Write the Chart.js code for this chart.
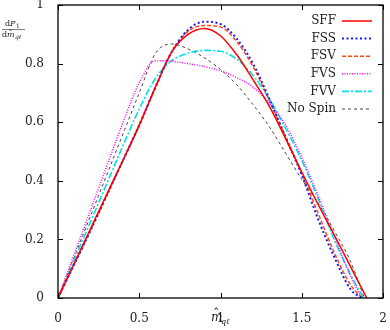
<!DOCTYPE html>
<html><head><meta charset="utf-8">
<script src="https://cdn.jsdelivr.net/npm/chart.js@4"></script>
<style>html,body{margin:0;padding:0;background:#fff}#wrap{width:390px;height:330px}</style>
</head><body><div id="wrap"><canvas id="c" width="390" height="330"></canvas></div>
<script>
const xs = [0,0.1,0.2,0.3,0.4,0.5,0.6,0.7,0.8,0.9,1.0,1.1,1.2,1.3,1.4,1.5,1.6,1.7,1.8];
const labels = ['SFF','FSS','FSV','FVS','FVV','No Spin'];
const endX = [1.9,1.87,1.87,1.87,1.88,1.885];
const sff    = [0,0.118,0.236,0.354,0.47,0.59,0.72,0.84,0.9,0.92,0.895,0.83,0.745,0.655,0.545,0.43,0.32,0.215,0.107];
const fss    = [0,0.115,0.23,0.35,0.47,0.59,0.72,0.84,0.915,0.943,0.935,0.885,0.8,0.68,0.55,0.42,0.27,0.14,0.03];
const fsv    = [0,0.116,0.232,0.35,0.47,0.59,0.72,0.84,0.91,0.93,0.925,0.875,0.79,0.675,0.55,0.425,0.29,0.155,0.045];
const fvs    = [0,0.15,0.3,0.45,0.6,0.735,0.81,0.808,0.8,0.79,0.775,0.752,0.72,0.665,0.59,0.48,0.35,0.21,0.075];
const fvv    = [0,0.13,0.26,0.39,0.52,0.645,0.75,0.81,0.835,0.845,0.842,0.815,0.76,0.68,0.58,0.47,0.34,0.2,0.08];
const nospin = [0,0.14,0.28,0.42,0.56,0.7,0.835,0.867,0.85,0.82,0.78,0.728,0.66,0.585,0.495,0.405,0.325,0.23,0.125];
const xTicks = [0,0.5,1,1.5,2];
const yTicks = [0,0.2,0.4,0.6,0.8,1];

const series = [sff,fss,fsv,fvs,fvv,nospin];
const styles = [
  {c:'#ff0000', w:1.5, d:[]},
  {c:'#1a1aff', w:2, d:[2,2.5]},
  {c:'#ff4a10', w:1.5, d:[4,2]},
  {c:'#ff00ff', w:1.5, d:[1,1.5]},
  {c:'#00e0e8', w:1.6, d:[7,2,2,2]},
  {c:'#444444', w:1, d:[3,3]}
];
const datasets = series.map((vals,i)=>({
  label: labels[i],
  data: xs.map((x,j)=>({x:x,y:vals[j]})).concat([{x:endX[i],y:0}]),
  borderColor: styles[i].c, borderWidth: styles[i].w, borderDash: styles[i].d,
  pointRadius:0, fill:false, cubicInterpolationMode:'monotone'
}));

const SERIF = '"DejaVu Serif", "Liberation Serif", serif';
const deco = {
  id:'deco',
  afterDraw(chart){
    const ctx = chart.ctx, a = chart.chartArea, xs_ = chart.scales.x, ys_ = chart.scales.y;
    ctx.save();
    ctx.strokeStyle = '#000'; ctx.lineWidth = 1.3;
    ctx.strokeRect(a.left, a.top, a.right-a.left, a.bottom-a.top);
    ctx.lineWidth = 1;
    xTicks.forEach(v=>{const p = Math.round(xs_.getPixelForValue(v))+0.5;
      ctx.beginPath(); ctx.moveTo(p,a.bottom); ctx.lineTo(p,a.bottom-5); ctx.moveTo(p,a.top); ctx.lineTo(p,a.top+5); ctx.stroke();});
    yTicks.forEach(v=>{const p = Math.round(ys_.getPixelForValue(v))+0.5;
      ctx.beginPath(); ctx.moveTo(a.left,p); ctx.lineTo(a.left+5,p); ctx.moveTo(a.right,p); ctx.lineTo(a.right-5,p); ctx.stroke();});
    // legend
    ctx.font = '12px ' + SERIF; ctx.fillStyle = '#222'; ctx.textAlign='right'; ctx.textBaseline='middle';
    chart.data.datasets.forEach((ds,i)=>{
      const y = 21 + i*17.6;
      ctx.fillText(ds.label, 336, y);
      ctx.strokeStyle = ds.borderColor; ctx.lineWidth = ds.borderWidth; ctx.setLineDash(ds.borderDash);
      ctx.beginPath(); ctx.moveTo(342, y); ctx.lineTo(372, y); ctx.stroke();
    });
    ctx.setLineDash([]);
    // y title fraction
    ctx.fillStyle = '#222'; ctx.textAlign='left'; ctx.textBaseline='alphabetic';
    ctx.font = '8px ' + SERIF;
    ctx.fillText('d', 5, 26);
    ctx.font = 'italic 8px ' + SERIF; ctx.fillText('P', 10, 26);
    ctx.font = '6px ' + SERIF; ctx.fillText('1', 16, 28);
    ctx.strokeStyle='#222'; ctx.lineWidth=0.6; ctx.beginPath(); ctx.moveTo(2,29.5); ctx.lineTo(25,29.5); ctx.stroke();
    ctx.font = '8px ' + SERIF; ctx.fillText('d', 2, 37);
    ctx.font = 'italic 8px ' + SERIF; ctx.fillText('m', 7, 37);
    ctx.font = '8px ' + SERIF; ctx.fillText('\u02C6', 8.5, 36);
    ctx.font = 'italic 6px ' + SERIF; ctx.fillText('q\u2113', 15, 39);
    // x title
    ctx.font = 'italic 12px ' + SERIF; ctx.textAlign='left';
    ctx.fillText('m', 211, 321);
    ctx.font = '13px ' + SERIF; ctx.fillText('\u02C6', 213, 318);
    ctx.font = 'italic 8px ' + SERIF; ctx.fillText('q\u2113', 221, 324);
    ctx.restore();
  }
};

new Chart(document.getElementById('c'), {
  type:'line',
  data:{datasets},
  options:{
    responsive:false, animation:false,
    layout:{padding:{left:0,right:7,top:5,bottom:0}},
    plugins:{legend:{display:false}, tooltip:{enabled:false}},
    scales:{
      x:{type:'linear', min:0, max:2,
        afterBuildTicks(s){ s.ticks = xTicks.map(v=>({value:v})); },
        afterFit(s){ s.height = 32; s.paddingLeft = 0; s.paddingRight = 0; },
        grid:{display:false}, border:{display:false},
        ticks:{font:{family:SERIF,size:12}, color:'#222', padding:6, maxRotation:0,
          callback:v=>String(v)}},
      y:{type:'linear', min:0, max:1,
        afterBuildTicks(s){ s.ticks = yTicks.map(v=>({value:v})); },
        afterFit(s){ s.width = 58; s.paddingTop = 0; s.paddingBottom = 0; },
        grid:{display:false}, border:{display:false},
        ticks:{font:{family:SERIF,size:12}, color:'#222', padding:6,
          callback:v=>String(v)}}
    }
  },
  plugins:[deco]
});
</script></body></html>
